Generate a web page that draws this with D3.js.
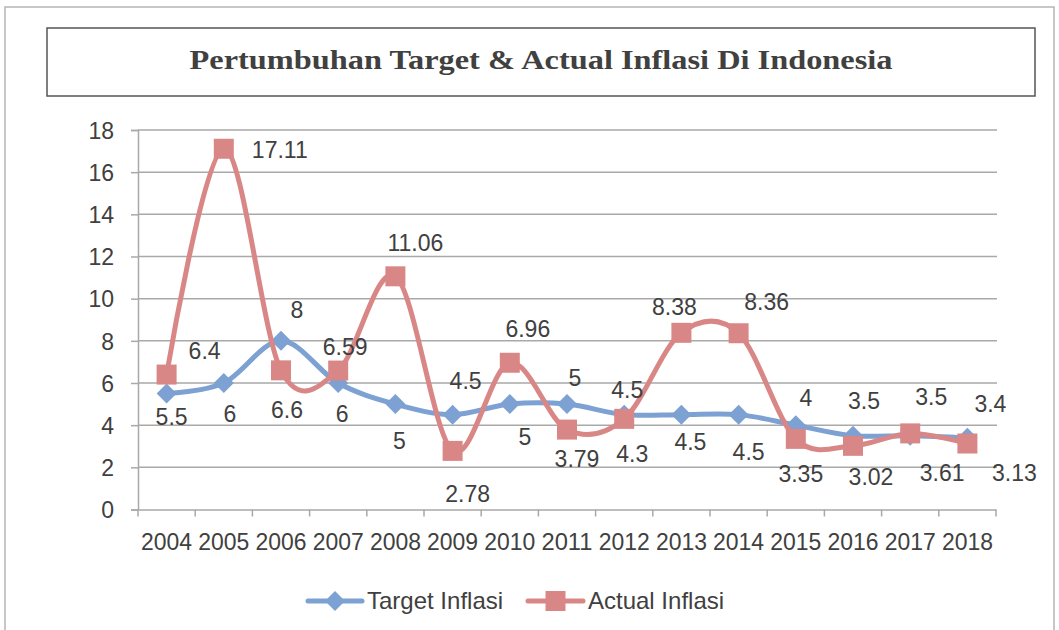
<!DOCTYPE html>
<html>
<head>
<meta charset="utf-8">
<script src="https://cdn.jsdelivr.net/npm/d3@7"></script>
<style>
  body { margin: 0; background: #fff; }
  text { font-family: "Liberation Sans", Arial, sans-serif; fill: #404040; }
</style>
</head>
<body>
<svg id="chart" width="1059" height="630"></svg>
<script>
const years = ["2004","2005","2006","2007","2008","2009","2010","2011","2012","2013","2014","2015","2016","2017","2018"];
const targetInflasi = [5.5, 6, 8, 6, 5, 4.5, 5, 5, 4.5, 4.5, 4.5, 4, 3.5, 3.5, 3.4];
const actualInflasi = [6.4, 17.11, 6.6, 6.59, 11.06, 2.78, 6.96, 3.79, 4.3, 8.38, 8.36, 3.35, 3.02, 3.61, 3.13];
const yTicks = [0, 2, 4, 6, 8, 10, 12, 14, 16, 18];
const seriesNames = ["Target Inflasi", "Actual Inflasi"];

// where excel put each data label, relative to its point (dx, baseline dy)
const targetLabelOffset = [[5,31],[6,39],[16,-23],[4,39],[4,45],[13,-26],[15,41],[8,-18],[3,-17],[9,35],[10,45],[10,-19],[11,-27],[21,-31],[23,-26]];
const actualLabelOffset = [[38,-16],[56,9],[6,48],[7,-16],[20,-25],[15,51],[18,-26],[10,37],[8,43],[-7,-18],[28,-23],[5,43],[18,39],[32,48],[47,37]];

window.onload = () => {
    let svg = d3.select("#chart");
    let blue = "#7ca1d2";
    let red = "#d98786";
    let grid = "#a9a9a9";

    // outer chart border
    svg.append("rect")
    .attr("x", 5).attr("y", 7)
    .attr("width", 1049).attr("height", 640)
    .attr("fill", "none")
    .attr("stroke", "#b5b5b5")
    .attr("stroke-width", 1.5);

    // title box
    svg.append("rect")
    .attr("x", 47).attr("y", 28)
    .attr("width", 988).attr("height", 68)
    .attr("fill", "#fff")
    .attr("stroke", "#555")
    .attr("stroke-width", 1.5);

    svg.append("text")
    .attr("x", 541).attr("y", 69)
    .attr("text-anchor", "middle")
    .style("font-family", "'Liberation Serif', 'DejaVu Serif', serif")
    .style("font-size", "28px")
    .style("font-weight", "bold")
    .attr("fill", "#484848")
    .attr("textLength", 703)
    .attr("lengthAdjust", "spacingAndGlyphs")
    .text("Pertumbuhan Target & Actual Inflasi Di Indonesia");

    let x = d3.scaleBand().domain(years).range([138, 996]).padding(0);
    let y = d3.scaleLinear().domain([0, 18]).range([509.5, 130]);
    let cx = (i) => x(years[i]) + x.bandwidth() / 2;

    // gridlines
    svg.append("g")
    .selectAll("line")
    .data(yTicks.filter(d => d > 0))
    .enter()
    .append("line")
    .attr("x1", 138).attr("x2", 997)
    .attr("y1", d => y(d)).attr("y2", d => y(d))
    .attr("stroke", grid)
    .attr("stroke-width", 1.5);

    // y axis
    let yAxis = svg.append("g")
    .attr("transform", "translate(138,0)")
    .call(d3.axisLeft(y).tickValues(yTicks).tickSize(7).tickPadding(17));
    yAxis.select(".domain").attr("stroke", grid).attr("stroke-width", 1.5);
    yAxis.selectAll(".tick line").attr("stroke", grid).attr("stroke-width", 1.5);
    yAxis.selectAll(".tick text")
    .style("font-size", "23px")
    .style("font-family", "'Liberation Sans', Arial, sans-serif")
    .attr("fill", "#404040")
    .attr("dy", "0.36em");

    // x axis, ticks on category boundaries
    let xAxis = svg.append("g")
    .attr("transform", "translate(0,509.5)")
    .call(d3.axisBottom(x).tickSize(0).tickPadding(24));
    xAxis.select(".domain").attr("stroke", grid).attr("stroke-width", 1.5);
    xAxis.selectAll(".tick text")
    .style("font-size", "23px")
    .style("font-family", "'Liberation Sans', Arial, sans-serif")
    .attr("fill", "#404040")
    .attr("textLength", 51)
    .attr("lengthAdjust", "spacingAndGlyphs");
    xAxis.selectAll(".boundary")
    .data(d3.range(years.length + 1))
    .enter()
    .append("line")
    .attr("x1", i => 138 + i * x.bandwidth())
    .attr("x2", i => 138 + i * x.bandwidth())
    .attr("y1", 0).attr("y2", 7)
    .attr("stroke", grid)
    .attr("stroke-width", 1.5);

    let line = d3.line()
    .x((d, i) => cx(i))
    .y(d => y(d))
    .curve(d3.curveCardinal.tension(0));

    let diamond = (px, py, r) => `M${px},${py - r}L${px + r},${py}L${px},${py + r}L${px - r},${py}Z`;

    // target series
    svg.append("path")
    .datum(targetInflasi)
    .attr("d", line)
    .attr("fill", "none")
    .attr("stroke", blue)
    .attr("stroke-width", 5)
    .attr("stroke-linejoin", "round");

    svg.append("g")
    .selectAll("path")
    .data(targetInflasi)
    .enter()
    .append("path")
    .attr("d", (d, i) => diamond(cx(i), y(d), 10))
    .attr("fill", blue);

    // actual series
    svg.append("path")
    .datum(actualInflasi)
    .attr("d", line)
    .attr("fill", "none")
    .attr("stroke", red)
    .attr("stroke-width", 5)
    .attr("stroke-linejoin", "round");

    svg.append("g")
    .selectAll("rect")
    .data(actualInflasi)
    .enter()
    .append("rect")
    .attr("x", (d, i) => cx(i) - 10)
    .attr("y", d => y(d) - 10)
    .attr("width", 20)
    .attr("height", 20)
    .attr("fill", red);

    // data labels
    let labels = svg.append("g")
    .style("font-size", "23px")
    .attr("text-anchor", "middle");

    labels.selectAll(".tlabel")
    .data(targetInflasi)
    .enter()
    .append("text")
    .attr("x", (d, i) => cx(i) + targetLabelOffset[i][0])
    .attr("y", (d, i) => y(d) + targetLabelOffset[i][1])
    .text(d => String(d));

    labels.selectAll(".alabel")
    .data(actualInflasi)
    .enter()
    .append("text")
    .attr("x", (d, i) => cx(i) + actualLabelOffset[i][0])
    .attr("y", (d, i) => y(d) + actualLabelOffset[i][1])
    .text(d => String(d));

    // legend
    let legend = svg.append("g");
    let legendItems = [
        {name: seriesNames[0], color: blue, x0: 308, x1: 362, tx: 367, marker: "diamond"},
        {name: seriesNames[1], color: red, x0: 528, x1: 583, tx: 588, marker: "square"}
    ];
    legendItems.forEach(item => {
        let mid = (item.x0 + item.x1) / 2;
        legend.append("line")
        .attr("x1", item.x0).attr("x2", item.x1)
        .attr("y1", 601).attr("y2", 601)
        .attr("stroke", item.color)
        .attr("stroke-width", 5)
        .attr("stroke-linecap", "round");
        if (item.marker == "diamond") {
            legend.append("path")
            .attr("d", diamond(mid, 601, 10))
            .attr("fill", item.color);
        } else {
            legend.append("rect")
            .attr("x", mid - 10).attr("y", 591)
            .attr("width", 20).attr("height", 20)
            .attr("fill", item.color);
        }
        legend.append("text")
        .attr("x", item.tx).attr("y", 609)
        .style("font-size", "24px")
        .text(item.name);
    });
}
</script>
</body>
</html>
